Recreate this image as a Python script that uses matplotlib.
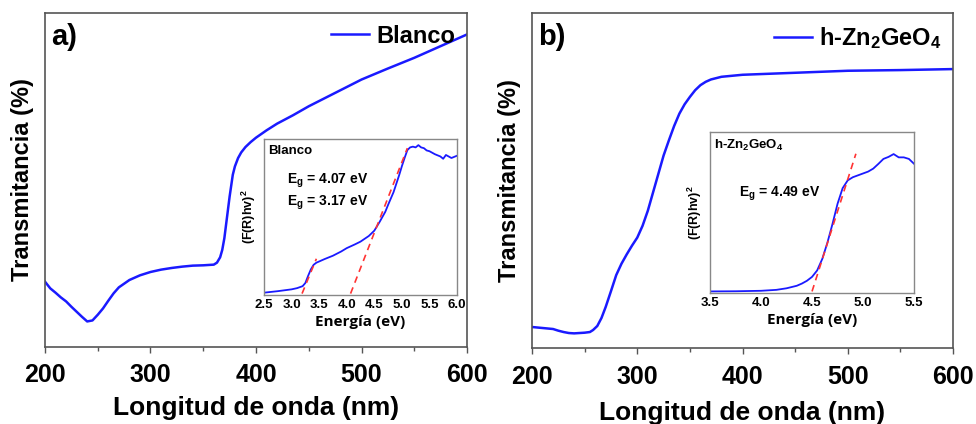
import matplotlib.pyplot as plt
from matplotlib.ticker import MultipleLocator

plt.rcParams['font.family'] = ['Liberation Sans', 'DejaVu Sans']
plt.rcParams['font.weight'] = 'bold'
plt.rcParams['mathtext.fontset'] = 'custom'
plt.rcParams['mathtext.rm'] = 'Liberation Sans:bold'
plt.rcParams['mathtext.bf'] = 'Liberation Sans:bold'
plt.rcParams['mathtext.default'] = 'bf'

# panel a: Blanco transmittance
wl_a = [200, 205, 210, 215, 220, 225, 230, 235, 240, 245, 250, 255, 260, 265, 270,
        280, 290, 300, 310, 320, 330, 340, 350, 360, 363, 366, 368, 370, 372, 375,
        378, 380, 383, 386, 390, 395, 400, 410, 420, 435, 450, 475, 500, 525, 550,
        575, 600]
t_a = [19.5, 17.5, 16.2, 14.8, 13.6, 12.0, 10.5, 9.0, 7.6, 7.9, 9.6, 11.5, 13.8, 16.0, 17.8,
       20.0, 21.4, 22.4, 23.1, 23.6, 24.0, 24.3, 24.4, 24.6, 25.2, 26.8, 29.0, 32.5, 37.5, 45.0,
       51.5, 54.0, 56.5, 58.2, 59.8, 61.3, 62.6, 64.8, 66.8, 69.3, 72.0, 76.0, 80.0, 83.3, 86.5,
       90.0, 93.5]

# panel b: h-Zn2GeO4 transmittance
wl_b = [200, 210, 220, 225, 230, 235, 240, 245, 250, 255, 258, 262, 266, 270, 275,
        280, 285, 290, 295, 300, 305, 310, 315, 320, 325, 330, 335, 340, 345, 350,
        355, 360, 365, 370, 380, 400, 450, 500, 550, 600]
t_b = [6.3, 6.0, 5.7, 5.2, 4.8, 4.5, 4.4, 4.5, 4.6, 4.8, 5.4, 6.6, 9.0, 12.3, 17.0,
       21.8, 25.2, 28.0, 30.6, 33.0, 36.5, 41.0, 46.5, 52.0, 57.5, 62.0, 66.3, 70.0, 72.8, 75.0,
       77.0, 78.5, 79.5, 80.2, 81.0, 81.6, 82.2, 82.8, 83.0, 83.3]

# inset a: Tauc plot Blanco
e_a = [2.5, 2.75, 3.0, 3.1, 3.2, 3.25, 3.3, 3.35, 3.4, 3.45, 3.5, 3.6, 3.75, 3.9, 4.0,
       4.15, 4.25, 4.4, 4.5, 4.6, 4.7, 4.75, 4.85, 4.95, 5.0, 5.05, 5.1, 5.15, 5.2, 5.25,
       5.3, 5.35, 5.4, 5.45, 5.5, 5.6, 5.7, 5.75, 5.8, 5.9, 6.0]
f_a = [0.6, 1.6, 2.8, 3.6, 4.9, 7.0, 11.7, 16.0, 19.0, 20.4, 21.2, 22.8, 25.0, 27.8, 30.0,
       32.5, 34.3, 38.0, 41.5, 47.5, 54.0, 58.5, 67.0, 78.0, 84.0, 89.5, 94.7, 96.5, 97.0, 96.5,
       98.0, 96.5, 96.0, 94.5, 94.0, 92.0, 90.5, 89.0, 91.5, 89.5, 91.0]

# inset b: Tauc plot h-Zn2GeO4
e_b = [3.5, 3.75, 4.0, 4.15, 4.25, 4.35, 4.4, 4.45, 4.5, 4.55, 4.6, 4.65, 4.7, 4.75, 4.8,
       4.85, 4.9, 4.95, 5.0, 5.05, 5.1, 5.15, 5.2, 5.25, 5.3, 5.35, 5.4, 5.45, 5.5]
f_b = [0.0, 0.1, 0.4, 1.0, 2.0, 3.6, 5.0, 6.8, 9.3, 13.4, 20.7, 31.0, 43.0, 56.0, 66.0,
       71.0, 73.0, 74.2, 75.4, 76.6, 78.5, 81.5, 84.7, 86.0, 87.8, 85.7, 85.7, 84.7, 81.6]

# linear fits ([x_start, x_end], [y_start, y_end])
fit_a1 = ([3.19, 3.45], [0.0, 23.0])
fit_a2 = ([4.07, 5.10], [0.0, 96.0])
fit_b = ([4.50, 4.93], [0.0, 88.0])

blue = '#1a1aff'
red = '#ff3333'

fig = plt.figure(figsize=(9.76, 4.24), dpi=100)


def main_axes(rect, wl, t, label, tag, xpad):
    ax = fig.add_axes(rect)
    ax.plot(wl, t, color=blue, lw=1.8, label=label)
    ax.set_xlim(200, 600)
    ax.set_ylim(0, 100)
    ax.xaxis.set_major_locator(MultipleLocator(100))
    ax.xaxis.set_minor_locator(MultipleLocator(50))
    ax.set_yticks([])
    ax.tick_params(axis='x', which='major', labelsize=18, length=4, width=1, color='#555555', pad=8)
    ax.tick_params(axis='x', which='minor', length=3, width=1, color='#555555')
    for lab in ax.get_xticklabels():
        lab.set_fontweight('bold')
    for s in ax.spines.values():
        s.set_color('#555555')
        s.set_linewidth(1.2)
    ax.set_xlabel('Longitud de onda (nm)', fontsize=19, fontweight='bold', labelpad=xpad)
    ax.set_ylabel('Transmitancia (%)', fontsize=17, fontweight='bold', labelpad=8)
    ax.text(0.015, 0.97, tag, transform=ax.transAxes, fontsize=21, fontweight='bold', va='top')
    ax.legend(loc='upper right', frameon=False, handlelength=1.6,
              handletextpad=0.3, borderaxespad=0.1, prop={'weight': 'bold', 'size': 17})
    return ax


def inset_axes(rect, e, f, fits, xlim, xticks, name, eg_text, eg_pos):
    ax = fig.add_axes(rect)
    ax.plot(e, f, color=blue, lw=1.3)
    for xs, ys in fits:
        ax.plot(xs, ys, color=red, lw=1.2, ls=(0, (4, 3)))
    ax.set_xlim(*xlim)
    ax.set_ylim(-1, 102)
    ax.set_xticks(xticks)
    ax.set_xticklabels(['%.1f' % v for v in xticks], fontweight='bold')
    ax.set_yticks([])
    ax.tick_params(axis='x', labelsize=9.5, length=0, pad=3)
    for s in ax.spines.values():
        s.set_color('#888888')
        s.set_linewidth(1)
    ax.set_xlabel('Energía (eV)', fontsize=11, fontweight='bold',
                  family=['Open Sans', 'DejaVu Sans'], labelpad=3)
    ax.set_ylabel('(F(R)hv)$^2$', fontsize=9, fontweight='bold', labelpad=4)
    ax.text(0.02, 0.96, name, transform=ax.transAxes, fontsize=9.5, fontweight='bold', va='top')
    ax.text(eg_pos[0], eg_pos[1], eg_text, transform=ax.transAxes, fontsize=10,
            fontweight='bold', va='top', linespacing=1.3)
    return ax


main_axes([0.0461, 0.182, 0.4324, 0.788], wl_a, t_a, 'Blanco', 'a)', 6)
main_axes([0.5451, 0.179, 0.4314, 0.790], wl_b, t_b, 'h-Zn$_2$GeO$_4$', 'b)', 9)

inset_axes([0.2705, 0.304, 0.1977, 0.368], e_a, f_a, [fit_a1, fit_a2], (2.5, 6.0),
           [2.5, 3.0, 3.5, 4.0, 4.5, 5.0, 5.5, 6.0], 'Blanco',
           'E$_g$ = 4.07 eV\nE$_g$ = 3.17 eV', (0.12, 0.79))
inset_axes([0.7275, 0.309, 0.209, 0.380], e_b, f_b, [fit_b], (3.5, 5.5),
           [3.5, 4.0, 4.5, 5.0, 5.5], 'h-Zn$_2$GeO$_4$',
           'E$_g$ = 4.49 eV', (0.14, 0.67))

fig.savefig('out.png', dpi=100)
